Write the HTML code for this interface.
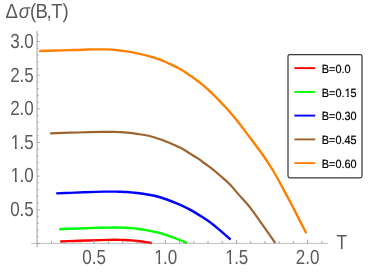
<!DOCTYPE html><html><head><meta charset="utf-8"><style>html,body{margin:0;padding:0;background:#fff;}svg{display:block}text{font-family:"Liberation Sans",sans-serif;text-rendering:geometricPrecision;}</style></head><body>
<svg width="388" height="277" viewBox="0 0 388 277">
<rect width="388" height="277" fill="#fff"/>
<g fill="none" stroke-linejoin="round">
<path d="M60.20,241.45 C62.50,241.38 69.37,241.16 74.00,241.00 C78.63,240.84 83.67,240.65 88.00,240.50 C92.33,240.35 96.67,240.21 100.00,240.10 C103.33,239.99 105.67,239.90 108.00,239.85 C110.33,239.80 112.00,239.80 114.00,239.80 C116.00,239.80 118.21,239.82 120.00,239.85 C121.79,239.88 122.92,239.91 124.75,240.00 C126.58,240.09 128.94,240.23 131.00,240.40 C133.06,240.57 134.60,240.70 137.10,241.00 C139.60,241.30 143.55,241.83 146.00,242.20 C148.45,242.57 150.83,243.03 151.80,243.20" stroke="#ff0000" stroke-width="2.4"/>
<path d="M59.20,229.20 C61.00,229.13 65.53,228.97 70.00,228.80 C74.47,228.63 81.00,228.37 86.00,228.20 C91.00,228.03 96.33,227.90 100.00,227.80 C103.67,227.70 105.67,227.64 108.00,227.60 C110.33,227.56 112.00,227.55 114.00,227.55 C116.00,227.55 118.21,227.57 120.00,227.60 C121.79,227.63 122.92,227.66 124.75,227.75 C126.58,227.84 128.94,227.97 131.00,228.15 C133.06,228.33 134.60,228.48 137.10,228.80 C139.60,229.12 142.78,229.53 146.00,230.10 C149.22,230.67 152.61,231.22 156.40,232.20 C160.19,233.17 164.63,234.57 168.75,235.95 C172.87,237.33 178.07,239.32 181.10,240.50 C184.12,241.68 185.93,242.58 186.90,243.00" stroke="#00ff00" stroke-width="2.4"/>
<path d="M56.20,193.35 C58.50,193.27 65.37,193.02 70.00,192.85 C74.63,192.68 79.67,192.46 84.00,192.30 C88.33,192.14 92.67,192.01 96.00,191.90 C99.33,191.79 101.67,191.70 104.00,191.65 C106.33,191.60 108.00,191.61 110.00,191.60 C112.00,191.59 114.21,191.57 116.00,191.60 C117.79,191.62 118.92,191.68 120.75,191.75 C122.58,191.82 124.94,191.91 127.00,192.05 C129.06,192.19 130.43,192.32 133.10,192.60 C135.77,192.88 139.45,193.22 143.00,193.75 C146.55,194.28 150.44,194.79 154.40,195.75 C158.36,196.71 162.63,198.06 166.75,199.50 C170.87,200.94 175.39,202.80 179.10,204.40 C182.81,206.00 186.18,207.65 189.00,209.10 C191.82,210.55 193.64,211.68 196.00,213.10 C198.36,214.52 200.65,215.95 203.15,217.60 C205.65,219.25 208.47,221.12 211.00,223.00 C213.53,224.88 215.03,226.13 218.30,228.90 C221.57,231.67 228.55,237.82 230.60,239.60" stroke="#0000ff" stroke-width="2.4"/>
<path d="M50.20,133.30 C53.50,133.20 63.37,132.89 70.00,132.70 C76.63,132.51 84.60,132.29 90.00,132.15 C95.40,132.01 99.40,131.91 102.40,131.85 C105.40,131.79 105.94,131.79 108.00,131.80 C110.06,131.81 112.58,131.83 114.75,131.90 C116.92,131.97 118.94,132.07 121.00,132.20 C123.06,132.33 124.43,132.42 127.10,132.70 C129.77,132.98 133.45,133.39 137.00,133.90 C140.55,134.41 144.44,134.82 148.40,135.75 C152.36,136.68 156.63,138.06 160.75,139.50 C164.87,140.94 169.89,143.05 173.10,144.40 C176.31,145.75 178.18,146.71 180.00,147.60 C181.82,148.49 181.93,148.52 184.00,149.75 C186.07,150.98 189.97,153.47 192.40,155.00 C194.83,156.53 196.54,157.48 198.60,158.90 C200.66,160.32 202.48,161.85 204.75,163.50 C207.02,165.15 209.56,166.72 212.20,168.80 C214.84,170.88 217.72,173.45 220.60,176.00 C223.48,178.55 226.37,180.87 229.50,184.10 C232.63,187.33 235.88,191.38 239.40,195.40 C242.92,199.42 244.63,200.27 250.60,208.20 C256.57,216.13 271.10,237.20 275.20,243.00" stroke="#9c6330" stroke-width="2.2"/>
<path d="M39.10,51.00 C40.92,50.95 46.18,50.80 50.00,50.70 C53.82,50.60 58.17,50.49 62.00,50.38 C65.83,50.27 69.33,50.16 73.00,50.05 C76.67,49.94 80.83,49.80 84.00,49.70 C87.17,49.60 89.33,49.48 92.00,49.42 C94.67,49.36 97.67,49.33 100.00,49.33 C102.33,49.33 103.93,49.35 106.00,49.40 C108.07,49.45 110.40,49.52 112.40,49.65 C114.40,49.78 115.94,49.96 118.00,50.20 C120.06,50.44 122.58,50.78 124.75,51.10 C126.92,51.42 128.94,51.73 131.00,52.10 C133.06,52.47 134.60,52.77 137.10,53.30 C139.60,53.83 143.52,54.68 146.00,55.30 C148.48,55.92 149.93,56.38 152.00,57.00 C154.07,57.62 156.32,58.25 158.40,59.00 C160.48,59.75 162.44,60.62 164.50,61.50 C166.56,62.38 168.67,63.32 170.75,64.30 C172.83,65.28 174.94,66.33 177.00,67.40 C179.06,68.48 180.93,69.40 183.10,70.75 C185.27,72.10 188.18,74.26 190.00,75.50 C191.82,76.74 191.93,76.68 194.00,78.20 C196.07,79.72 199.98,82.63 202.40,84.60 C204.82,86.57 206.44,88.10 208.50,90.00 C210.56,91.90 212.43,93.67 214.75,96.00 C217.07,98.33 220.29,101.80 222.40,104.00 C224.51,106.20 225.03,106.53 227.40,109.20 C229.77,111.87 233.10,115.62 236.60,120.00 C240.10,124.38 244.13,129.83 248.40,135.50 C252.67,141.17 258.15,148.25 262.20,154.00 C266.25,159.75 269.33,164.45 272.70,170.00 C276.07,175.55 279.30,181.63 282.40,187.30 C285.50,192.97 287.32,196.33 291.30,204.00 C295.28,211.67 303.80,228.42 306.30,233.30" stroke="#ff8000" stroke-width="2.4"/>
</g>
<g stroke="#8a8a8a" stroke-width="0.8" fill="none">
<line x1="37.05" y1="31" x2="37.05" y2="247" stroke-width="0.8" stroke="#858585"/>
<line x1="31" y1="243.4" x2="328" y2="243.4" stroke-width="0.55"/>
<line x1="37.05" y1="243.40" x2="39.949999999999996" y2="243.40" stroke-width="0.6"/>
<line x1="37.05" y1="236.67" x2="38.849999999999994" y2="236.67" stroke-width="0.6"/>
<line x1="37.05" y1="229.95" x2="38.849999999999994" y2="229.95" stroke-width="0.6"/>
<line x1="37.05" y1="223.22" x2="38.849999999999994" y2="223.22" stroke-width="0.6"/>
<line x1="37.05" y1="216.49" x2="38.849999999999994" y2="216.49" stroke-width="0.6"/>
<line x1="37.05" y1="209.77" x2="39.949999999999996" y2="209.77" stroke-width="0.6"/>
<line x1="37.05" y1="203.04" x2="38.849999999999994" y2="203.04" stroke-width="0.6"/>
<line x1="37.05" y1="196.31" x2="38.849999999999994" y2="196.31" stroke-width="0.6"/>
<line x1="37.05" y1="189.58" x2="38.849999999999994" y2="189.58" stroke-width="0.6"/>
<line x1="37.05" y1="182.86" x2="38.849999999999994" y2="182.86" stroke-width="0.6"/>
<line x1="37.05" y1="176.13" x2="39.949999999999996" y2="176.13" stroke-width="0.6"/>
<line x1="37.05" y1="169.40" x2="38.849999999999994" y2="169.40" stroke-width="0.6"/>
<line x1="37.05" y1="162.68" x2="38.849999999999994" y2="162.68" stroke-width="0.6"/>
<line x1="37.05" y1="155.95" x2="38.849999999999994" y2="155.95" stroke-width="0.6"/>
<line x1="37.05" y1="149.22" x2="38.849999999999994" y2="149.22" stroke-width="0.6"/>
<line x1="37.05" y1="142.50" x2="39.949999999999996" y2="142.50" stroke-width="0.6"/>
<line x1="37.05" y1="135.77" x2="38.849999999999994" y2="135.77" stroke-width="0.6"/>
<line x1="37.05" y1="129.04" x2="38.849999999999994" y2="129.04" stroke-width="0.6"/>
<line x1="37.05" y1="122.31" x2="38.849999999999994" y2="122.31" stroke-width="0.6"/>
<line x1="37.05" y1="115.59" x2="38.849999999999994" y2="115.59" stroke-width="0.6"/>
<line x1="37.05" y1="108.86" x2="39.949999999999996" y2="108.86" stroke-width="0.6"/>
<line x1="37.05" y1="102.13" x2="38.849999999999994" y2="102.13" stroke-width="0.6"/>
<line x1="37.05" y1="95.41" x2="38.849999999999994" y2="95.41" stroke-width="0.6"/>
<line x1="37.05" y1="88.68" x2="38.849999999999994" y2="88.68" stroke-width="0.6"/>
<line x1="37.05" y1="81.95" x2="38.849999999999994" y2="81.95" stroke-width="0.6"/>
<line x1="37.05" y1="75.23" x2="39.949999999999996" y2="75.23" stroke-width="0.6"/>
<line x1="37.05" y1="68.50" x2="38.849999999999994" y2="68.50" stroke-width="0.6"/>
<line x1="37.05" y1="61.77" x2="38.849999999999994" y2="61.77" stroke-width="0.6"/>
<line x1="37.05" y1="55.04" x2="38.849999999999994" y2="55.04" stroke-width="0.6"/>
<line x1="37.05" y1="48.32" x2="38.849999999999994" y2="48.32" stroke-width="0.6"/>
<line x1="37.05" y1="41.59" x2="39.949999999999996" y2="41.59" stroke-width="0.6"/>
<line x1="37.05" y1="34.86" x2="38.849999999999994" y2="34.86" stroke-width="0.6"/>
<line x1="51.50" y1="243.4" x2="51.50" y2="241.20000000000002"/>
<line x1="65.73" y1="243.4" x2="65.73" y2="241.20000000000002"/>
<line x1="79.96" y1="243.4" x2="79.96" y2="241.20000000000002"/>
<line x1="94.19" y1="243.4" x2="94.19" y2="239.8"/>
<line x1="108.42" y1="243.4" x2="108.42" y2="241.20000000000002"/>
<line x1="122.65" y1="243.4" x2="122.65" y2="241.20000000000002"/>
<line x1="136.88" y1="243.4" x2="136.88" y2="241.20000000000002"/>
<line x1="151.11" y1="243.4" x2="151.11" y2="241.20000000000002"/>
<line x1="165.34" y1="243.4" x2="165.34" y2="239.8"/>
<line x1="179.57" y1="243.4" x2="179.57" y2="241.20000000000002"/>
<line x1="193.80" y1="243.4" x2="193.80" y2="241.20000000000002"/>
<line x1="208.03" y1="243.4" x2="208.03" y2="241.20000000000002"/>
<line x1="222.26" y1="243.4" x2="222.26" y2="241.20000000000002"/>
<line x1="236.49" y1="243.4" x2="236.49" y2="239.8"/>
<line x1="250.72" y1="243.4" x2="250.72" y2="241.20000000000002"/>
<line x1="264.95" y1="243.4" x2="264.95" y2="241.20000000000002"/>
<line x1="279.18" y1="243.4" x2="279.18" y2="241.20000000000002"/>
<line x1="293.41" y1="243.4" x2="293.41" y2="241.20000000000002"/>
<line x1="307.64" y1="243.4" x2="307.64" y2="239.8"/>
<line x1="321.87" y1="243.4" x2="321.87" y2="241.20000000000002"/>
</g>
<g fill="#5a5a5a" font-size="20.5px" style="will-change:opacity">
<defs><clipPath id="c1"><path d="M-3,-20.50 H20.50 V-2.331 H7.266 V2 H4.856 V-2.331 H-3 Z"/></clipPath><clipPath id="c2"><path d="M-3,-11.90 H11.90 V-1.689 H4.344 V2 H2.693 V-1.689 H-3 Z"/></clipPath></defs>
<text transform="translate(10.15,216) scale(0.83,1)">0.5</text>
<text transform="translate(10.85,182) scale(0.83,1)" clip-path="url(#c1)">1</text>
<text transform="translate(19.61,182) scale(0.83,1)">.0</text>
<text transform="translate(10.85,149) scale(0.83,1)" clip-path="url(#c1)">1</text>
<text transform="translate(19.61,149) scale(0.83,1)">.5</text>
<text transform="translate(10.15,115) scale(0.83,1)">2.0</text>
<text transform="translate(10.15,82) scale(0.83,1)">2.5</text>
<text transform="translate(10.15,48) scale(0.83,1)">3.0</text>
<text transform="translate(82.36,264) scale(0.83,1)">0.5</text>
<text transform="translate(154.21,264) scale(0.83,1)" clip-path="url(#c1)">1</text>
<text transform="translate(162.98,264) scale(0.83,1)">.0</text>
<text transform="translate(225.36,264) scale(0.83,1)" clip-path="url(#c1)">1</text>
<text transform="translate(234.13,264) scale(0.83,1)">.5</text>
<text transform="translate(295.81,264) scale(0.83,1)">2.0</text>
<text font-size="20.5px" transform="translate(5.6,18.3) scale(0.905,1)">Δ</text>
<text font-size="20.5px" transform="translate(18.8,18.3) scale(0.905,1)" font-style="italic">σ</text>
<text font-size="20.5px" transform="translate(29.95,18.3) scale(0.905,1)">(</text>
<text font-size="20.5px" transform="translate(35.4,18.3) scale(0.905,1)">B</text>
<text font-size="20.5px" transform="translate(46.4,18.3) scale(0.905,1)">,</text>
<text font-size="20.5px" transform="translate(51.3,18.3) scale(0.905,1)">T</text>
<text font-size="20.5px" transform="translate(62.6,18.3) scale(0.905,1)">)</text>
<text font-size="20.5px" transform="translate(336.5,249) scale(0.84,1)">T</text>
</g>
<g style="will-change:opacity">
<rect x="288.0" y="54.5" width="74.0" height="123.4" rx="1.8" ry="1.8" fill="#fff" stroke="#383838" stroke-width="1.25"/>
<line x1="294.4" y1="68.15" x2="315.2" y2="68.15" stroke="#ff0000" stroke-width="1.9"/>
<text transform="translate(321.8,73) scale(0.915,1)" font-size="11.9px" fill="#000" stroke="#000" stroke-width="0.2">B=0.0</text>
<line x1="294.4" y1="91.9" x2="315.2" y2="91.9" stroke="#00ff00" stroke-width="1.9"/>
<text transform="translate(321.8,97) scale(0.915,1)" font-size="11.9px" fill="#000" stroke="#000" stroke-width="0.2">B=0.</text>
<text transform="translate(344.75,97) scale(0.915,1)" font-size="11.9px" fill="#000" stroke="#000" stroke-width="0.2" clip-path="url(#c2)">1</text>
<text transform="translate(350.56,97) scale(0.915,1)" font-size="11.9px" fill="#000" stroke="#000" stroke-width="0.2">5</text>
<line x1="294.4" y1="115.6" x2="315.2" y2="115.6" stroke="#0000ff" stroke-width="1.9"/>
<text transform="translate(321.8,120) scale(0.915,1)" font-size="11.9px" fill="#000" stroke="#000" stroke-width="0.2">B=0.30</text>
<line x1="294.4" y1="139.4" x2="315.2" y2="139.4" stroke="#9c6330" stroke-width="1.9"/>
<text transform="translate(321.8,144) scale(0.915,1)" font-size="11.9px" fill="#000" stroke="#000" stroke-width="0.2">B=0.45</text>
<line x1="294.4" y1="163.1" x2="315.2" y2="163.1" stroke="#ff8000" stroke-width="1.9"/>
<text transform="translate(321.8,168) scale(0.915,1)" font-size="11.9px" fill="#000" stroke="#000" stroke-width="0.2">B=0.60</text>
</g>
</svg></body></html>
